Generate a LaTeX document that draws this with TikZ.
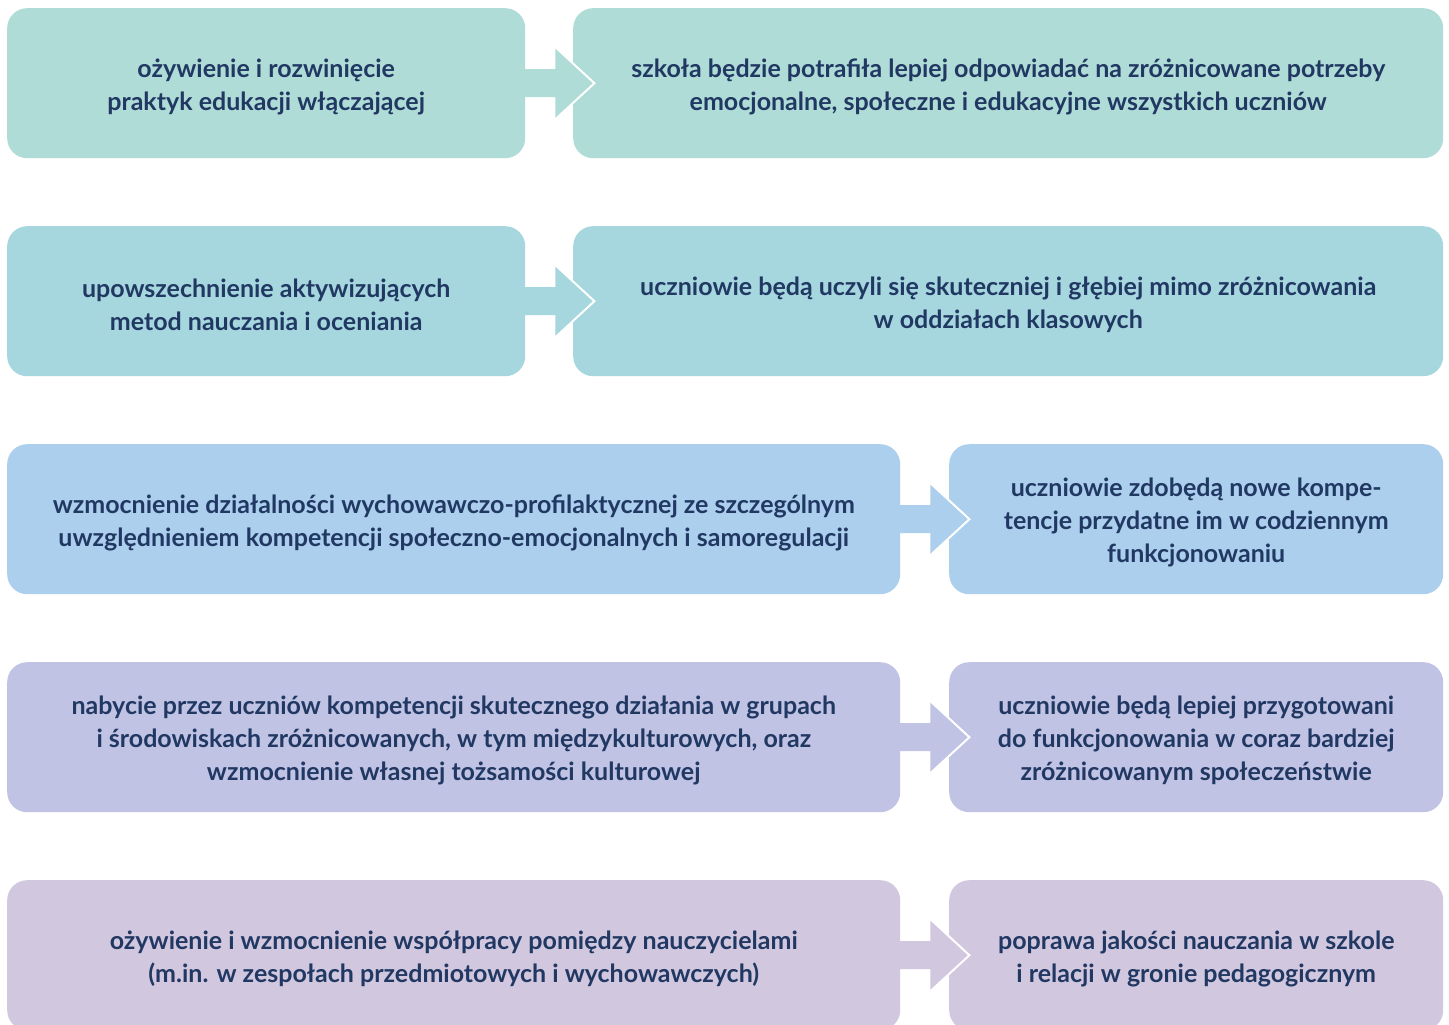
\documentclass[tikz,border=0pt]{standalone}
\usepackage{fontspec}
\setmainfont{Lato}
\definecolor{txt}{RGB}{33,56,99}
\definecolor{cA}{RGB}{175,220,214}
\definecolor{cB}{RGB}{166,215,223}
\definecolor{cC}{RGB}{171,207,236}
\definecolor{cD}{RGB}{192,195,228}
\definecolor{cE}{RGB}{209,199,223}
\begin{document}
\begin{tikzpicture}[x=1pt,y=-1pt,
  box/.style={rectangle,rounded corners=20pt,inner sep=0pt,anchor=north west,
    minimum height=150pt},
  lbl/.style={align=center,text=txt,inner sep=0pt,yshift=-3.5pt,
    font=\fontsize{25}{33}\selectfont\bfseries},
  headline/.style={draw=white,line width=2pt,line join=miter}]
\useasboundingbox (0,0) rectangle (1449,1025);
\fill[white] (0,0) rectangle (1449,1025);
% boxes
\node[box,fill=cA,minimum width=518pt] (L1) at (7,8) {};
\node[box,fill=cA,minimum width=870pt] (R1) at (573,8) {};
\node[box,fill=cB,minimum width=518pt] (L2) at (7,226) {};
\node[box,fill=cB,minimum width=870pt] (R2) at (573,226) {};
\node[box,fill=cC,minimum width=893pt] (L3) at (7,444) {};
\node[box,fill=cC,minimum width=494pt] (R3) at (949,444) {};
\node[box,fill=cD,minimum width=893pt] (L4) at (7,662) {};
\node[box,fill=cD,minimum width=494pt] (R4) at (949,662) {};
\node[box,fill=cE,minimum width=893pt] (L5) at (7,880) {};
\node[box,fill=cE,minimum width=494pt] (R5) at (949,880) {};
% texts
\node[lbl] (tL1) at (L1.center) {ożywienie i rozwinięcie\\praktyk edukacji włączającej};
\node[lbl] (tR1) at (R1.center) {szkoła będzie potrafiła lepiej odpowiadać na zróżnicowane potrzeby\\emocjonalne, społeczne i edukacyjne wszystkich uczniów};
\node[lbl] (tL2) at (L2.center) {upowszechnienie aktywizujących\\metod nauczania i oceniania};
\node[lbl] (tR2) at (R2.center) {uczniowie będą uczyli się skuteczniej i głębiej mimo zróżnicowania\\w oddziałach klasowych};
\node[lbl] (tL3) at (L3.center) {wzmocnienie działalności wychowawczo-profilaktycznej ze szczególnym\\uwzględnieniem kompetencji społeczno-emocjonalnych i samoregulacji};
\node[lbl] (tR3) at (R3.center) {uczniowie zdobędą nowe kompe-\\tencje przydatne im w codziennym\\funkcjonowaniu};
\node[lbl] (tL4) at (L4.center) {nabycie przez uczniów kompetencji skutecznego działania w grupach\\i środowiskach zróżnicowanych, w tym międzykulturowych, oraz\\wzmocnienie własnej tożsamości kulturowej};
\node[lbl] (tR4) at (R4.center) {uczniowie będą lepiej przygotowani\\do funkcjonowania w coraz bardziej\\zróżnicowanym społeczeństwie};
\node[lbl] (tL5) at (L5.center) {ożywienie i wzmocnienie współpracy pomiędzy nauczycielami\\(m.in. w zespołach przedmiotowych i wychowawczych)};
\node[lbl] (tR5) at (R5.center) {poprawa jakości nauczania w szkole\\i relacji w gronie pedagogicznym};
% arrows
\foreach \n/\c in {1/cA,2/cB,3/cC,4/cD,5/cE}{
  \fill[\c] ([shift={(-2,-14)}]L\n.east) -- ++(32,0) -- ++(0,-22) -- ++(39,36)
     -- ++(-39,36) -- ++(0,-22) -- ++(-32,0) -- cycle;
  \draw[headline] ([shift={(30,-36)}]L\n.east) -- ++(39,36) -- ++(-39,36);
}
\end{tikzpicture}
\end{document}
